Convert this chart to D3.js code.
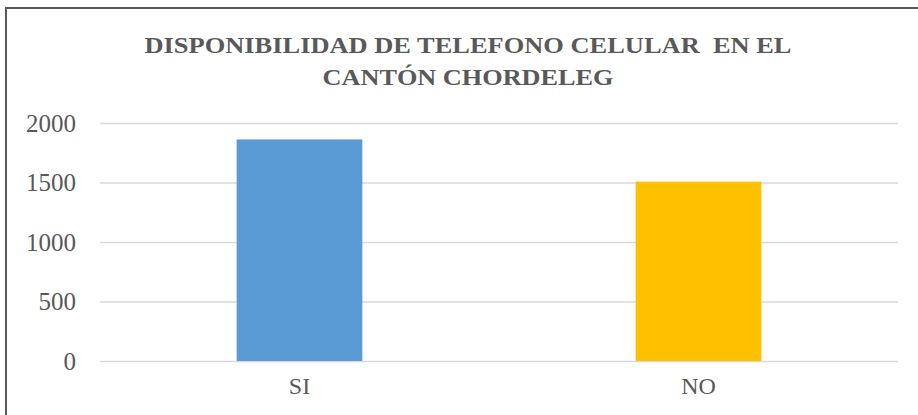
<!DOCTYPE html>
<html>
<head>
<meta charset="utf-8">
<script src="https://cdn.jsdelivr.net/npm/d3@7"></script>
<style>
  body { margin: 0; background: #fff; }
  svg { display: block; }
</style>
</head>
<body>
<svg id="chart" width="918" height="415"></svg>
<script>
const categories = ["SI", "NO"];
const values = [1862, 1507];
const colors = ["#5b9bd5", "#ffc000"];
const yTicks = [0, 500, 1000, 1500, 2000];
const titleLines = ["DISPONIBILIDAD DE TELEFONO CELULAR\u00a0 EN EL", "CANTÓN CHORDELEG"];
const titleWidths = [647, 291];

const FONT = "'Liberation Serif', 'Times New Roman', Times, serif";
const svg = d3.select("#chart");
const m = { left: 100, top: 123 };
const plotR = 898, plotB = 361;

// outer border (extends past right/bottom of the viewport)
svg.append("rect")
  .attr("x", 6).attr("y", 8)
  .attr("width", 960).attr("height", 460)
  .attr("fill", "#fff")
  .attr("stroke", "#595959")
  .attr("stroke-width", 2);

const x = d3.scaleBand()
  .domain(categories)
  .range([m.left, plotR])
  .paddingInner(0.685)
  .paddingOuter(0.3425);

const y = d3.scaleLinear()
  .domain([0, 2000])
  .range([plotB, m.top]);

// gridlines + y labels
const yAxis = d3.axisLeft(y).tickValues(yTicks).tickSize(-(plotR - m.left)).tickPadding(24).tickFormat(d3.format("d"));
const gy = svg.append("g").attr("transform", `translate(${m.left},0)`).call(yAxis)
  .attr("font-family", FONT).attr("font-size", 25);
gy.select(".domain").remove();
gy.selectAll(".tick line").attr("stroke", "#d9d9d9").attr("stroke-width", 1.5);
gy.selectAll(".tick text").attr("fill", "#595959");

// bars
svg.append("g").selectAll("rect")
  .data(categories)
  .join("rect")
  .attr("x", d => x(d))
  .attr("width", x.bandwidth())
  .attr("y", (d, i) => y(values[i]))
  .attr("height", (d, i) => y(0) - y(values[i]))
  .attr("fill", (d, i) => colors[i]);

// x axis labels
const xAxis = d3.axisBottom(x).tickSize(0).tickPadding(16);
const gx = svg.append("g").attr("transform", `translate(0,${plotB})`).call(xAxis)
  .attr("font-family", FONT).attr("font-size", 24);
gx.select(".domain").remove();
gx.selectAll(".tick text").attr("fill", "#595959");

// title
svg.append("g")
  .attr("font-family", FONT)
  .attr("font-weight", "bold")
  .attr("font-size", 24)
  .selectAll("text")
  .data(titleLines)
  .join("text")
  .attr("x", 468)
  .attr("y", (d, i) => 53 + i * 32)
  .attr("text-anchor", "middle")
  .attr("textLength", (d, i) => titleWidths[i])
  .attr("lengthAdjust", "spacingAndGlyphs")
  .attr("fill", "#595959")
  .text(d => d);
</script>
</body>
</html>
